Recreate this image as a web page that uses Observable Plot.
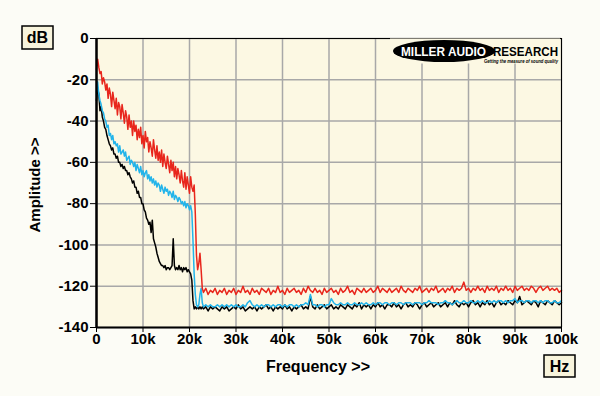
<!DOCTYPE html>
<html><head><meta charset="utf-8">
<script src="https://cdn.jsdelivr.net/npm/d3@7"></script>
<script src="https://cdn.jsdelivr.net/npm/@observablehq/plot@0.6"></script>
<style>
body{margin:0;background:#fcfcf6;}
#chart{width:600px;height:396px;}
</style>
</head><body><div id="chart"></div>
<script>
// ---- tick labels ----
const xTicks = [0, 10, 20, 30, 40, 50, 60, 70, 80, 90, 100]; // kHz
const yTicks = [0, -20, -40, -60, -80, -100, -120, -140];   // dB

// ---- frequency grids (kHz) ----
const LOW_STEP = 0.25;      // 0 .. 22.75 kHz
const FLOOR_START = 23;     // 23 .. 100 kHz
const FLOOR_STEP = 0.5;

// ---- red series ----
const redLow = [
 -15,-10,-14,-17, -16,-22,-19,-21, -25,-22,-29,-24, -27,-33,-26,-30,
 -34,-29,-37,-31, -33,-39,-32,-36, -41,-35,-38,-44, -37,-43,-40,-47,
 -40,-45,-42,-49, -44,-48,-43,-51, -47,-53,-45,-50, -48,-55,-50,-53,
 -57,-49,-54,-58, -52,-59,-55,-60, -54,-62,-56,-60, -63,-57,-61,-65,
 -59,-64,-60,-67, -62,-68,-63,-66, -70,-64,-69,-72, -65,-73,-67,-71,
 -75,-67,-72,-74, -71,-85,-105,-112, -109,-104,-112,-121
];
const redFloor = [
 -123,-121,-124,-122,-123,-121,-124,-122,-123,-121,
 -124,-122,-123,-121,-124,-122,-123,-120,-123,-122,
 -124,-121,-123,-122,-124,-121,-122,-123,-121,-124,
 -122,-123,-120,-123,-122,-124,-121,-123,-122,-121,
 -123,-122,-124,-121,-123,-120,-122,-123,-121,-123,
 -122,-124,-121,-123,-122,-121,-123,-122,-124,-121,
 -123,-122,-120,-123,-122,-124,-121,-122,-123,-121,
 -123,-122,-121,-123,-122,-120,-123,-121,-122,-123,
 -121,-123,-122,-121,-123,-120,-122,-123,-121,-122,
 -123,-121,-122,-120,-123,-122,-121,-123,-121,-122,
 -120,-123,-122,-121,-123,-121,-122,-120,-123,-121,
 -122,-121,-118,-122,-121,-123,-121,-122,-120,-122,
 -121,-123,-120,-122,-121,-122,-120,-123,-121,-122,
 -120,-122,-121,-123,-120,-122,-121,-120,-122,-121,
 -122,-120,-121,-123,-121,-120,-122,-121,-120,-122,
 -121,-122,-121,-123,-122
];

// ---- cyan series ----
const cyanLow = [
 -26,-21,-27,-30, -32,-35,-36,-39, -40,-43,-42,-47, -46,-49,-47,-51,
 -50,-52,-51,-55, -52,-56,-55,-54, -57,-55,-59,-58, -57,-61,-59,-60,
 -62,-60,-64,-61, -63,-65,-62,-66, -64,-67,-65,-64, -68,-66,-69,-67,
 -70,-68,-71,-69, -72,-70,-71,-74, -71,-73,-75,-72, -74,-73,-76,-74,
 -75,-77,-74,-78, -76,-77,-79,-77, -78,-80,-79,-81, -79,-82,-80,-81,
 -83,-81,-84,-98, -114,-124,-129,-130, -129,-124,-121,-128
];
const cyanFloor = [
 -130,-129,-130,-129,-130,-130,-129,-130,-129,-130,
 -129,-130,-129,-130,-129,-130,-130,-129,-130,-128,
 -127,-129,-130,-129,-130,-129,-130,-129,-129,-130,
 -129,-130,-129,-129,-130,-129,-130,-129,-129,-130,
 -129,-130,-129,-129,-128,-129,-124,-129,-129,-130,
 -129,-129,-130,-129,-129,-126,-128,-129,-129,-128,
 -129,-129,-128,-129,-129,-128,-129,-129,-128,-129,
 -128,-129,-129,-128,-129,-128,-128,-129,-128,-128,
 -129,-128,-128,-129,-128,-128,-129,-128,-128,-128,
 -129,-128,-128,-128,-129,-128,-128,-127,-128,-128,
 -128,-129,-128,-128,-127,-128,-128,-129,-128,-127,
 -128,-128,-127,-128,-128,-127,-128,-128,-127,-128,
 -127,-128,-128,-127,-128,-127,-128,-127,-127,-128,
 -127,-128,-127,-127,-126,-128,-127,-127,-128,-127,
 -127,-128,-127,-127,-128,-127,-128,-127,-127,-128,
 -128,-127,-128,-128,-127
];

// ---- black series ----
const blackLow = [
 -30,-24,-27,-35,-33,-38,-40,-43,-44,-47,
 -49,-51,-52,-54,-53,-56,-56,-58,-57,-60,
 -60,-62,-61,-63,-62,-64,-64,-66,-65,-67,
 -68,-70,-69,-72,-72,-75,-74,-77,-77,-80,
 -80,-83,-84,-87,-88,-90,-89,-94,-88,-97,
 -99,-101,-104,-106,-108,-109,-110,-110,-111,-110,
 -112,-111,-111,-112,-111,-110,-97,-110,-112,-111,
 -112,-110,-112,-111,-113,-111,-112,-111,-113,-112,
 -113,-114,-117,-127,-131,-130,-131,-130,-131,-130,
 -131,-130
];
const blackFloor = [
 -131,-130,-132,-130,-131,-130,-131,-132,-130,-131,
 -130,-132,-131,-130,-131,-129,-131,-130,-132,-131,
 -130,-131,-130,-132,-130,-131,-130,-129,-131,-130,
 -132,-130,-131,-130,-131,-129,-131,-130,-132,-130,
 -131,-130,-129,-131,-130,-131,-125,-130,-131,-129,
 -131,-130,-129,-131,-130,-129,-131,-130,-131,-129,
 -130,-131,-129,-130,-131,-129,-130,-128,-131,-129,
 -130,-129,-131,-129,-130,-128,-130,-129,-131,-129,
 -129,-130,-128,-130,-129,-131,-129,-128,-130,-129,
 -130,-128,-129,-131,-129,-128,-130,-129,-128,-130,
 -129,-128,-130,-129,-128,-130,-128,-129,-127,-129,
 -130,-128,-129,-128,-130,-128,-127,-129,-128,-130,
 -128,-129,-127,-129,-128,-130,-128,-127,-129,-128,
 -129,-127,-128,-129,-127,-128,-125,-129,-128,-127,
 -128,-129,-127,-128,-130,-127,-128,-129,-127,-128,
 -129,-127,-128,-129,-128
];

function build(low, floor) {
  const out = [];
  low.forEach((v, i) => out.push({f: i * LOW_STEP, db: v}));
  floor.forEach((v, i) => out.push({f: FLOOR_START + i * FLOOR_STEP, db: v}));
  return out;
}
const red = build(redLow, redFloor);
const cyan = build(cyanLow, cyanFloor);
const black = build(blackLow, blackFloor);

const FONT = "'Liberation Sans', Arial, sans-serif";

const plot = Plot.plot({
  width: 600, height: 396,
  marginLeft: 96, marginRight: 39, marginTop: 38, marginBottom: 69,
  style: {background: "transparent", fontFamily: FONT, fontSize: "15px", fontWeight: "bold", color: "#000", overflow: "visible"},
  x: {domain: [0, 100], label: null},
  y: {domain: [-140, 0], label: null},
  marks: [
    Plot.frame({fill: "#fcf8e3", stroke: null}),
    Plot.gridX(xTicks, {stroke: "#a8a8a8", strokeOpacity: 1, strokeWidth: 1.5}),
    Plot.gridY(yTicks, {stroke: "#a8a8a8", strokeOpacity: 1, strokeWidth: 1.5}),
    Plot.line(black, {x: "f", y: "db", stroke: "#000000", strokeWidth: 1.5}),
    Plot.line(cyan, {x: "f", y: "db", stroke: "#22b4ea", strokeWidth: 1.5}),
    Plot.line(red, {x: "f", y: "db", stroke: "#e8261c", strokeWidth: 1.5}),
    Plot.frame({stroke: "#000", strokeWidth: 1}),
    Plot.ruleX([0], {stroke: "#000", strokeWidth: 2.5}),
    Plot.ruleY([-140], {stroke: "#000", strokeWidth: 2}),
    Plot.axisX(xTicks, {tickSize: 5, tickPadding: 1, fontSize: 15, fontWeight: "bold",
      tickFormat: d => d === 0 ? "0" : d + "k", label: null}),
    Plot.axisY(yTicks, {tickSize: 6, tickPadding: 2, fontSize: 15, fontWeight: "bold",
      tickFormat: d => String(d), label: null})
  ]
});
document.getElementById("chart").appendChild(plot);

// ---- annotations ----
const svg = d3.select(plot);
const logo = svg.append("g").attr("text-anchor", "start");
// cream patch behind logo
logo.append("rect").attr("x", 390).attr("y", 38.5).attr("width", 170).attr("height", 25).attr("fill", "#fcf8e3");
logo.append("ellipse").attr("cx", 444).attr("cy", 51).attr("rx", 51).attr("ry", 11).attr("fill", "#000");
logo.append("text").attr("x", 401).attr("y", 55.5).attr("textLength", 85).attr("lengthAdjust", "spacingAndGlyphs")
  .attr("text-anchor", "start")
  .attr("font-family", FONT).attr("font-weight", "bold").attr("font-size", 12)
  .attr("fill", "#fff").text("MILLER AUDIO");
logo.append("text").attr("x", 493).attr("y", 55.5).attr("textLength", 65).attr("lengthAdjust", "spacingAndGlyphs")
  .attr("text-anchor", "start")
  .attr("font-family", FONT).attr("font-weight", "bold").attr("font-size", 12)
  .attr("fill", "#000").text("RESEARCH");
logo.append("text").attr("x", 484).attr("y", 62.5).attr("textLength", 74).attr("lengthAdjust", "spacingAndGlyphs")
  .attr("text-anchor", "start")
  .attr("font-family", FONT).attr("font-weight", "bold").attr("font-style", "italic").attr("font-size", 5)
  .attr("fill", "#000").text("Getting the measure of sound quality");

// unit boxes
function unitBox(x, y, w, h, label) {
  svg.append("rect").attr("x", x).attr("y", y).attr("width", w).attr("height", h)
    .attr("fill", "#f8f4dc").attr("stroke", "#000").attr("stroke-width", 1.5);
  svg.append("text").attr("x", x + w / 2).attr("y", y + h / 2).attr("dy", "0.36em")
    .attr("text-anchor", "middle").attr("font-family", FONT).attr("font-weight", "bold")
    .attr("font-size", 16).attr("fill", "#000").text(label);
}
unitBox(22, 26, 31, 23, "dB");
unitBox(544, 355, 31, 22, "Hz");

// axis titles
svg.append("text").attr("transform", "translate(40,185) rotate(-90)").attr("text-anchor", "middle")
  .attr("font-family", FONT).attr("font-weight", "bold").attr("font-size", 15).attr("fill", "#000")
  .text("Amplitude >>");
svg.append("text").attr("x", 318).attr("y", 372).attr("text-anchor", "middle")
  .attr("font-family", FONT).attr("font-weight", "bold").attr("font-size", 16).attr("fill", "#000")
  .text("Frequency >>");
</script>
</body></html>
